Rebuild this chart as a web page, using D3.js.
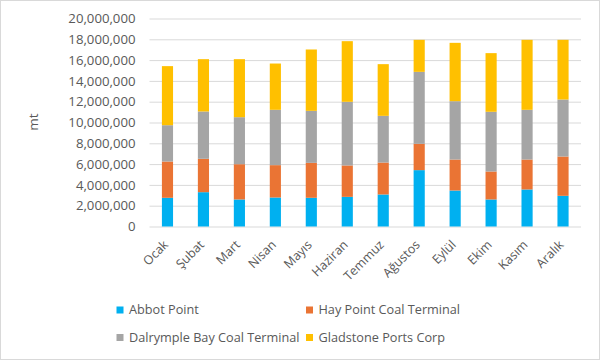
<!DOCTYPE html>
<html><head><meta charset="utf-8">
<script src="https://cdn.jsdelivr.net/npm/d3@7"></script>
<style>body{margin:0;background:#fff}svg{display:block}text{font-family:"Open Sans","Noto Sans",sans-serif;fill:#595959}</style>
</head><body><svg id="c" width="600" height="360"></svg>
<script>
const categories = ["Ocak","Şubat","Mart","Nisan","Mayıs","Haziran","Temmuz","Ağustos","Eylül","Ekim","Kasım","Aralık"];
const seriesNames = ["Abbot Point","Hay Point Coal Terminal","Dalrymple Bay Coal Terminal","Gladstone Ports Corp"];
const abbotPoint = [2760000,3300000,2600000,2790000,2760000,2850000,3080000,5420000,3460000,2600000,3560000,2950000];
const hayPoint = [3490000,3210000,3390000,3110000,3360000,3020000,3070000,2530000,2980000,2690000,2880000,3780000];
const dalrymple = [3490000,4550000,4520000,5320000,5000000,6120000,4490000,6920000,5610000,5740000,4780000,5480000];
const gladstone = [5680000,5030000,5580000,4450000,5900000,5830000,4970000,3080000,5610000,5640000,6730000,5740000];
const yTicks = [0,2000000,4000000,6000000,8000000,10000000,12000000,14000000,16000000,18000000,20000000];
const colors = ["#00B0F0","#EA7434","#A5A5A5","#FFC000"];

const svg = d3.select("#c");
svg.append("rect").attr("x",0.5).attr("y",0.5).attr("width",599).attr("height",359).attr("fill","#fff").attr("stroke","#d9d9d9");

const m = {left:149.5, right:581, top:18.5, bottom:226.5};
const x = d3.scaleBand().domain(categories).range([m.left,m.right]).paddingInner(0.69).paddingOuter(0.345);
const y = d3.scaleLinear().domain([0,20000000]).range([m.bottom,m.top]);

const table = categories.map((c,i)=>({cat:c, s0:abbotPoint[i], s1:hayPoint[i], s2:dalrymple[i], s3:gladstone[i]}));
const stack = d3.stack().keys(["s0","s1","s2","s3"])(table);

// gridlines
const yAxis = d3.axisLeft(y).tickValues(yTicks).tickSize(-(m.right-m.left)).tickFormat(d3.format(","));
const ga = svg.append("g").attr("transform",`translate(${m.left},0)`).call(yAxis);
ga.select(".domain").remove();
ga.selectAll(".tick line").attr("stroke","#d9d9d9").attr("stroke-width",1);
ga.selectAll(".tick text").attr("x",-14).attr("font-size",13.2).style("fill","#595959").attr("font-family","Open Sans");

svg.append("g").selectAll("g").data(stack).join("g").attr("fill",(d,i)=>colors[i])
  .selectAll("rect").data(d=>d).join("rect")
  .attr("x",d=>x(d.data.cat)).attr("width",x.bandwidth())
  .attr("y",d=>y(d[1])).attr("height",d=>y(d[0])-y(d[1]));

// x labels
const xa = svg.append("g").attr("transform",`translate(0,${m.bottom})`).call(d3.axisBottom(x).tickSize(0));
xa.select(".domain").remove();
xa.selectAll(".tick text").attr("font-size",12.5).style("fill","#595959").attr("font-family","Open Sans")
  .attr("text-anchor","end").attr("dy",0).attr("y",0)
  .attr("transform","translate(1.5,19) rotate(-45)");

svg.append("text").attr("transform","translate(38,122) rotate(-90)").attr("text-anchor","middle").attr("font-size",13.5).text("mt");

// legend
const leg = [[120,310],[309.5,310],[120,337.5],[309.5,337.5]];
seriesNames.forEach((n,i)=>{
  const g = svg.append("g").attr("transform",`translate(${leg[i][0]},${leg[i][1]})`);
  g.append("rect").attr("x",-3.5).attr("y",-3.5).attr("width",7).attr("height",7).attr("fill",colors[i]);
  g.append("text").attr("x",9).attr("y",0).attr("dy","0.35em").attr("font-size",12.7).text(n);
});
</script></body></html>
